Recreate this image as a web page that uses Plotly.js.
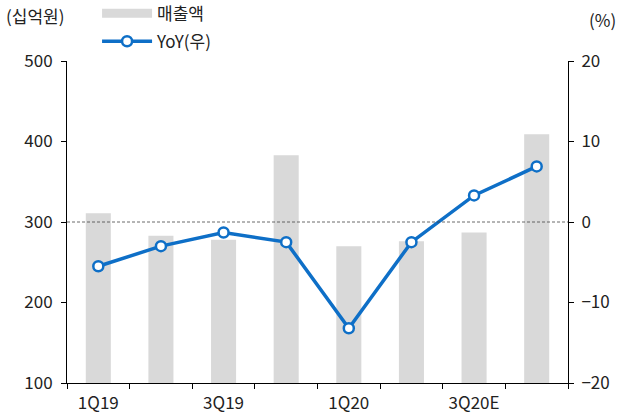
<!DOCTYPE html>
<html>
<head>
<meta charset="utf-8">
<script src="https://cdn.plot.ly/plotly-3.0.1.min.js"></script>
<style>html,body{margin:0;padding:0;background:#fff;}#chart{width:617px;height:418px;}</style>
</head>
<body>
<div id="chart"></div>
<script>
const categories = ['1Q19','2Q19','3Q19','4Q19','1Q20','2Q20','3Q20E','4Q20E'];
const sales = [311, 283, 278, 383, 270, 276, 287, 409];
const yoy = [-5.5, -3.0, -1.3, -2.5, -13.2, -2.5, 3.3, 6.9];
const tickLabels = categories.map((c, i) => (i % 2 === 0 ? c : ''));
const leftTicks = [100, 200, 300, 400, 500];
const rightTicks = [-20, -10, 0, 10, 20];

const FONT = '"Noto Sans CJK KR", "Noto Sans", sans-serif';
const TXT = '#222';
const BLUE = '#0e6fc7';
const GRAY = '#d9d9d9';

const traces = [
  {
    type: 'bar', x: categories, y: sales, name: '매출액',
    marker: {color: GRAY}, showlegend: false, yaxis: 'y', hoverinfo: 'skip'
  },
  {
    type: 'scatter', mode: 'lines', x: [null], y: [null], name: '매출액',
    line: {color: GRAY, width: 9}, legend: 'legend', showlegend: true, yaxis: 'y'
  },
  {
    type: 'scatter', mode: 'lines+markers', x: categories, y: yoy, name: 'YoY(우)',
    yaxis: 'y2', legend: 'legend2',
    line: {color: BLUE, width: 3.5},
    marker: {size: 10, color: '#ffffff', line: {color: BLUE, width: 2.5}}
  }
];

const layout = {
  width: 617, height: 418,
  margin: {l: 67, r: 49, t: 61, b: 35, autoexpand: false},
  paper_bgcolor: '#fff', plot_bgcolor: '#fff',
  font: {family: FONT, size: 17, color: TXT},
  bargap: 0.6,
  xaxis: {
    type: 'category', tickmode: 'array', tickvals: categories, ticktext: tickLabels,
    tickson: 'boundaries', ticks: 'outside', ticklen: 5, tickcolor: '#000',
    ticklabelstandoff: 5,
    showline: true, linecolor: '#000', linewidth: 1, showgrid: false,
    range: [-0.5, 7.5], fixedrange: true
  },
  yaxis: {
    range: [100, 500], tickmode: 'array', tickvals: leftTicks,
    ticks: 'outside', ticklen: 5, tickcolor: '#000', ticklabelstandoff: 5,
    showline: true, linecolor: '#000', linewidth: 1, showgrid: false, zeroline: false
  },
  yaxis2: {
    range: [-20, 20], tickmode: 'array', tickvals: rightTicks,
    overlaying: 'y', side: 'right',
    ticks: 'outside', ticklen: 5, tickcolor: '#000', ticklabelstandoff: 4,
    showline: true, linecolor: '#000', linewidth: 1, showgrid: false, zeroline: false
  },
  legend: {
    x: 0.06, y: 1.147, xanchor: 'left', yanchor: 'middle',
    itemwidth: 50, font: {size: 17, color: TXT}, bgcolor: 'rgba(0,0,0,0)'
  },
  legend2: {
    x: 0.06, y: 1.06, xanchor: 'left', yanchor: 'middle',
    itemwidth: 50, font: {size: 17, color: TXT}, bgcolor: 'rgba(0,0,0,0)'
  },
  shapes: [
    {type: 'line', xref: 'paper', x0: 0, x1: 1, yref: 'y2', y0: 0, y1: 0,
     line: {color: '#444', width: 0.8, dash: '3px,2px'}, layer: 'above'}
  ],
  annotations: [
    {text: '(십억원)', xref: 'paper', yref: 'paper', x: -0.125, y: 1.14,
     xanchor: 'left', yanchor: 'middle', showarrow: false, font: {size: 17, color: TXT}},
    {text: '(%)', xref: 'paper', yref: 'paper', x: 1.038, y: 1.13,
     xanchor: 'left', yanchor: 'middle', showarrow: false, font: {size: 17, color: TXT}}
  ]
};

Plotly.newPlot('chart', traces, layout, {displayModeBar: false, staticPlot: true});
</script>
</body>
</html>
